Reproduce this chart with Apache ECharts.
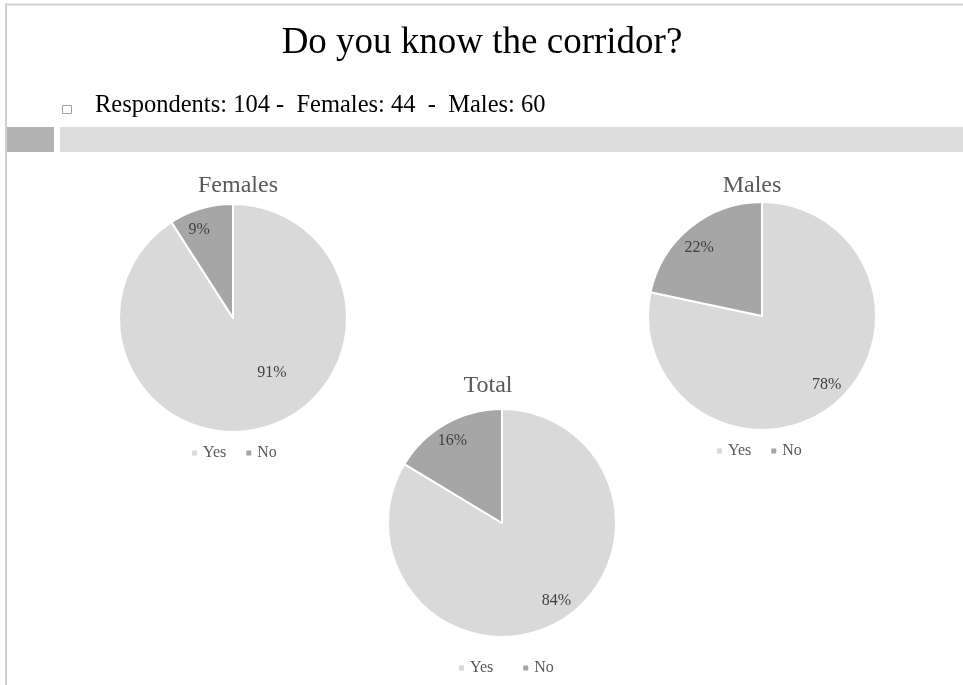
<!DOCTYPE html>
<html>
<head>
<meta charset="utf-8">
<script src="https://cdn.jsdelivr.net/npm/echarts@6/dist/echarts.min.js"></script>
<style>
  html, body { margin: 0; padding: 0; background: #fff; }
  #chart { width: 963px; height: 685px; }
</style>
</head>
<body>
<div id="chart"></div>
<script>
// answers, counted per group (percentages come out of the pie itself)
const answers = ['Yes', 'No'];
const femaleCounts = [40, 4];
const maleCounts = [47, 13];
const totalCounts = [87, 17];
const headline = 'Do you know the corridor?';
const subline = 'Respondents: 104 -  Females: 44  -  Males: 60';

const sliceColors = ['#d9d9d9', '#a6a6a6'];
const serif = '"Liberation Serif", "Times New Roman", serif';

// nudges for the in-slice labels (Excel "best fit" placement)
const labelNudge = [
    [[22, -3], [-17, -31]],
    [[27, 22], [-25, -22]],
    [[25, 26], [-20, -30]]
];

const toData = (counts) => counts.map((v, i) => ({
    name: answers[i],
    value: v,
    itemStyle: {color: sliceColors[i]}
}));

const pie = (name, counts, center) => ({
    name: name,
    type: 'pie',
    center: center,
    radius: [0, 114],
    startAngle: 90,
    clockwise: true,
    percentPrecision: 0,
    silent: true,
    itemStyle: {borderColor: '#fff', borderWidth: 2},
    label: {
        show: true,
        position: 'inside',
        formatter: '{d}%',
        fontFamily: serif,
        fontSize: 16,
        color: '#404040'
    },
    labelLine: {show: false},
    labelLayout: (p) => {
        const n = labelNudge[p.seriesIndex][p.dataIndex];
        return {dx: n[0], dy: n[1]};
    },
    data: toData(counts)
});

const legendAt = (left, top, gap) => ({
    data: answers,
    left: left,
    top: top,
    padding: 0,
    icon: 'rect',
    itemWidth: 7,
    itemHeight: 7,
    itemGap: gap,
    selectedMode: false,
    textStyle: {fontFamily: serif, fontSize: 16, color: '#595959'}
});

const pieTitle = (text, x, y) => ({
    text: text,
    left: x,
    top: y,
    textAlign: 'center',
    padding: 0,
    textStyle: {fontFamily: serif, fontSize: 24, fontWeight: 'normal', color: '#595959'}
});

const chart = echarts.init(document.getElementById('chart'));
chart.setOption({
    animation: false,
    backgroundColor: '#fff',
    title: [
        {
            text: headline,
            left: 482,
            top: 25,
            textAlign: 'center',
            padding: 0,
            textStyle: {fontFamily: serif, fontSize: 37, fontWeight: 'normal', color: '#000'}
        },
        {
            text: subline,
            left: 95,
            top: 93,
            padding: 0,
            textStyle: {fontFamily: serif, fontSize: 24.5, fontWeight: 'normal', color: '#000'}
        },
        pieTitle('Females', 238, 174),
        pieTitle('Males', 752, 174),
        pieTitle('Total', 488, 374)
    ],
    legend: [
        legendAt(190, 445, 18),
        legendAt(715, 443, 18),
        legendAt(457, 660, 28)
    ],
    graphic: [
        {type: 'line', shape: {x1: 5, y1: 4.5, x2: 963, y2: 4.5}, style: {stroke: '#d0d0d0', lineWidth: 2}},
        {type: 'line', shape: {x1: 6, y1: 4, x2: 6, y2: 685}, style: {stroke: '#d0d0d0', lineWidth: 2}},
        {type: 'rect', shape: {x: 62.5, y: 105.5, width: 9, height: 8}, style: {fill: '#fff', stroke: '#a0a0a0', lineWidth: 1}},
        {type: 'rect', shape: {x: 7, y: 127, width: 47, height: 25}, style: {fill: '#b3b3b3'}},
        {type: 'rect', shape: {x: 60, y: 127, width: 903, height: 25}, style: {fill: '#dcdcdc'}}
    ],
    series: [
        pie('Females', femaleCounts, [233, 318]),
        pie('Males', maleCounts, [762, 316]),
        pie('Total', totalCounts, [502, 523])
    ]
});
</script>
</body>
</html>
